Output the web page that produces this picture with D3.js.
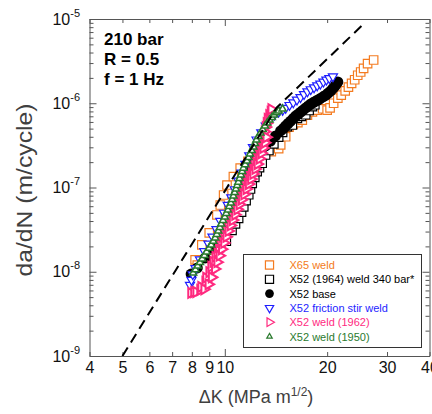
<!DOCTYPE html>
<html>
<head>
<meta charset="utf-8">
<style>
  body { margin:0; background:#fff; }
  svg { display:block; font-family:"Liberation Sans", Arial, sans-serif; }
</style>
</head>
<body>
<script src="https://d3js.org/d3.v7.min.js"></script>
<script>

var width = 432,
    height = 414;

// axis ticks
var xTicks = [4, 5, 6, 7, 8, 9, 10, 20, 30, 40];
var yDecades = [1e-9, 1e-8, 1e-7, 1e-6, 1e-5];
var yExponents = ["-9", "-8", "-7", "-6", "-5"];

// [dK (MPa m^1/2), da/dN (m/cycle)]
var x65Weld = [[8.18,1.38e-8],[8.3,1.2e-8],[8.56,2.08e-8],[9.15,1.44e-8],[9.0,2.9e-8],[9.48,4.72e-8],[9.7,6.2e-8],
  [9.92,8.15e-8],[10.15,1.07e-7],[10.6,1.35e-7],[11.1,1.7e-7],[11.7,2.05e-7],[12.3,2.35e-7],[13.0,2.55e-7],
  [13.7,2.66e-7],[14.4,2.9e-7],[14.6,3.2e-7],[15.1,4.0e-7],[15.45,5.2e-7],[15.9,5.6e-7],[16.4,5.9e-7],
  [16.9,6.3e-7],[17.5,7.2e-7],[18.1,7.9e-7],[18.7,8.3e-7],[19.4,8.6e-7],[20.0,8.3e-7],[20.4,8.8e-7],
  [20.9,1.0e-6],[21.5,1.15e-6],[22.0,1.25e-6],[22.6,1.4e-6],[23.1,1.55e-6],[23.6,1.72e-6],[24.1,1.9e-6],
  [24.6,2.15e-6],[25.1,2.35e-6],[25.6,2.6e-6],[26.3,2.95e-6],[27.4,3.26e-6]];

var x52Weld1964 = [[10.1,2.3e-8],[10.5,3.1e-8],[10.75,3.7e-8],[10.98,4.3e-8],[11.2,5.1e-8],[11.37,5.9e-8],
  [11.55,7.0e-8],[11.76,8.2e-8],[11.9,9.6e-8],[12.04,1.12e-7],[12.25,1.32e-7],[12.45,1.54e-7],[12.65,1.72e-7],
  [12.88,1.94e-7],[13.18,2.43e-7],[13.48,2.75e-7],[13.94,3.3e-7],[14.4,3.97e-7],[14.79,4.5e-7],[15.28,5.27e-7],
  [15.8,5.52e-7],[16.35,6.63e-7],[16.8,7.0e-7],[17.3,7.3e-7],[17.7,8.2e-7],[18.1,9.1e-7],[18.4,9.6e-7]];

var x52Base = [[7.96,9.4e-9],[8.3,1.11e-8],[8.75,1.46e-8],[9.15,1.91e-8],[9.55,2.52e-8],[9.85,3.31e-8],
  [10.15,4.46e-8],[10.45,6.03e-8],[10.8,8.15e-8],[11.1,1.07e-7],[11.45,1.41e-7],[11.8,1.75e-7],[12.15,2.12e-7],
  [12.45,2.43e-7],[12.8,2.79e-7],[13.18,3.11e-7],[13.63,3.56e-7],[14.1,4.09e-7],[14.59,4.69e-7],[14.85,5.0e-7],
  [15.1,5.37e-7],[15.35,5.75e-7],[15.62,6.15e-7],[15.9,6.6e-7],[16.17,7.06e-7],[16.45,7.45e-7],[16.72,7.87e-7],
  [17.0,8.3e-7],[17.3,8.79e-7],[17.6,9.3e-7],[17.9,9.8e-7],[18.2,1.02e-6],[18.53,1.06e-6],[18.85,1.1e-6],
  [19.17,1.15e-6],[19.5,1.2e-6],[19.84,1.25e-6],[20.15,1.32e-6],[20.5,1.4e-6],[20.8,1.5e-6],[21.1,1.6e-6],
  [21.3,1.7e-6],[21.5,1.79e-6]];

var x52Fsw = [[7.9,6.97e-9],[7.98,8.0e-9],[8.05,9.3e-9],[8.2,1.1e-8],[8.45,1.4e-8],[8.7,1.75e-8],[8.95,2.15e-8],
  [9.2,2.6e-8],[9.45,3.2e-8],[9.7,4.0e-8],[9.95,5.0e-8],[10.2,6.2e-8],[10.45,7.6e-8],[10.7,9.5e-8],[10.95,1.2e-7],
  [11.2,1.5e-7],[11.5,1.9e-7],[11.8,2.4e-7],[12.1,3.0e-7],[12.4,3.7e-7],[12.8,4.5e-7],[13.2,5.4e-7],[13.6,6.4e-7],
  [14.0,7.3e-7],[14.4,7.9e-7],[14.8,8.3e-7],[15.1,8.8e-7],[15.5,9.5e-7],[15.9,1.02e-6],[16.3,1.1e-6],[16.7,1.18e-6],
  [17.1,1.28e-6],[17.5,1.38e-6],[17.9,1.46e-6],[18.3,1.54e-6],[18.7,1.62e-6],[19.1,1.7e-6],[19.5,1.8e-6],
  [19.9,1.9e-6],[20.3,1.98e-6],[20.8,2.08e-6]];

var x52Weld1962 = [[7.96,5.6e-9],[8.12,5.75e-9],[8.24,5.75e-9],[8.46,6.07e-9],[8.52,6.6e-9],[8.76,7.6e-9],
  [8.81,8.5e-9],[9.0,9.9e-9],[9.12,1.15e-8],[9.25,1.31e-8],[9.38,1.5e-8],[9.51,1.72e-8],[9.6,1.98e-8],[9.7,2.25e-8],
  [9.83,2.6e-8],[9.96,2.96e-8],[10.1,3.4e-8],[10.24,3.89e-8],[10.38,4.4e-8],[10.52,4.98e-8],[10.67,5.55e-8],
  [10.82,6.2e-8],[10.96,7.0e-8],[11.11,7.93e-8],[11.22,8.8e-8],[11.34,9.87e-8],[11.5,1.1e-7],[11.66,1.23e-7],
  [11.82,1.37e-7],[11.98,1.53e-7],[12.1,1.73e-7],[12.23,1.95e-7],[12.4,2.2e-7],[12.57,2.5e-7],[12.7,2.8e-7],
  [12.82,3.19e-7],[12.91,3.6e-7],[13.0,4.08e-7],[13.1,4.6e-7],[13.18,5.22e-7],[13.27,5.8e-7],[13.36,6.5e-7],
  [13.5,7.2e-7],[13.63,7.87e-7],[13.7,8.5e-7],
  [8.7,6.2e-9],[8.95,7.1e-9],[9.15,8.6e-9],[9.35,1.08e-8],[9.5,1.3e-8],[9.65,1.55e-8],[9.8,1.85e-8],[9.95,2.2e-8],
  [10.1,2.6e-8],[10.25,3.05e-8],[10.4,3.55e-8],[10.55,4.1e-8],[10.72,4.75e-8],[10.88,5.5e-8],[11.05,6.3e-8],
  [11.22,7.2e-8],[11.4,8.3e-8],[11.58,9.6e-8],[11.76,1.1e-7],[11.94,1.26e-7],[12.12,1.45e-7],[12.3,1.66e-7],
  [12.48,1.9e-7],[12.66,2.2e-7],[12.82,2.55e-7],[12.98,2.95e-7],[13.12,3.4e-7],[13.25,3.95e-7]];

var x52Weld1950 = [[8.07,9.66e-9],[8.2,1.06e-8],[8.32,1.17e-8],[8.45,1.29e-8],[8.58,1.42e-8],[8.71,1.56e-8],
  [8.84,1.72e-8],[8.98,1.9e-8],[9.12,2.08e-8],[9.25,2.3e-8],[9.37,2.52e-8],[9.47,2.78e-8],[9.57,3.05e-8],
  [9.67,3.36e-8],[9.76,3.69e-8],[9.88,4.07e-8],[10.0,4.47e-8],[10.1,4.93e-8],[10.21,5.41e-8],[10.31,5.96e-8],
  [10.42,6.55e-8],[10.51,7.2e-8],[10.6,7.93e-8],[10.69,8.73e-8],[10.78,9.6e-8],[10.87,1.06e-7],[10.96,1.16e-7],
  [11.05,1.28e-7],[11.15,1.41e-7],[11.25,1.55e-7],[11.34,1.7e-7],[11.48,1.87e-7],[11.62,2.06e-7],[11.74,2.27e-7],
  [11.86,2.5e-7],[12.0,2.75e-7],[12.14,3.03e-7],[12.26,3.33e-7],[12.39,3.66e-7],[12.56,4.03e-7],[12.73,4.43e-7],
  [12.93,4.88e-7],[13.13,5.37e-7],[13.33,5.85e-7],[13.54,6.33e-7],[13.75,6.8e-7],[13.96,7.26e-7],[14.18,7.7e-7],
  [14.4,8.09e-7],[14.79,8.55e-7]];

// dashed reference curve
var designCurve = [[5, 1e-9], [14.2, 8.85e-7], [25.8, 9.0e-6]];

var legendNames = ["X65 weld", "X52 (1964) weld 340 bar*", "X52 base",
                   "X52 friction stir weld", "X52 weld (1962)", "X52 weld (1950)"];
var legendColors = ["#f47b20", "#000000", "#000000", "#1e1eff", "#ff2a7f", "#2a7a2e"];

var conditions = ["210 bar", "R = 0.5", "f = 1 Hz"];

// ------------------------------------------------------------

var x = d3.scaleLog().domain([4, 40]).range([89.5, 429.5]);
var y = d3.scaleLog().domain([1e-9, 1e-5]).range([356, 19]);

var x0 = x.range()[0], x1 = x.range()[1],
    yTop = y.range()[1], yBot = y.range()[0];

var svg = d3.select("body").append("svg")
    .attr("width", width)
    .attr("height", height);

svg.append("defs").append("clipPath").attr("id", "plotclip")
  .append("rect")
    .attr("x", x0).attr("y", yTop)
    .attr("width", x1 - x0).attr("height", yBot - yTop);

function isDecade(v) {
  var l = Math.log10(v);
  return Math.abs(l - Math.round(l)) < 1e-6;
}

var axisColor = "#555";
var yTickVals = y.ticks();

function styleAxis(g) {
  g.select(".domain").attr("stroke", axisColor);
  g.selectAll(".tick line").attr("stroke", axisColor);
  g.attr("font-size", 16).attr("font-family", "'Liberation Sans', Arial, sans-serif");
  g.selectAll(".tick text").attr("fill", "#111");
}

// left
var gL = svg.append("g")
    .attr("transform", "translate(" + x0 + ",0)")
    .call(d3.axisLeft(y).tickValues(yTickVals).tickSizeInner(-4).tickSizeOuter(0).tickFormat(""));
gL.selectAll(".tick line").attr("x2", function(d) { return isDecade(d) ? 7 : 4; });
styleAxis(gL);

// right
var gR = svg.append("g")
    .attr("transform", "translate(" + x1 + ",0)")
    .call(d3.axisRight(y).tickValues(yTickVals).tickSizeInner(-4).tickSizeOuter(0).tickFormat(""));
gR.selectAll(".tick line").attr("x2", function(d) { return isDecade(d) ? -7 : -4; });
styleAxis(gR);

// bottom
var gB = svg.append("g")
    .attr("transform", "translate(0," + yBot + ")")
    .call(d3.axisBottom(x).tickValues(xTicks).tickSizeInner(-4).tickSizeOuter(0)
      .tickPadding(6).tickFormat(d3.format("d")));
gB.selectAll(".tick line").attr("y2", function(d) { return isDecade(d) ? -7 : -4; });
styleAxis(gB);

// top
var gT = svg.append("g")
    .attr("transform", "translate(0," + yTop + ")")
    .call(d3.axisTop(x).tickValues(xTicks).tickSizeInner(-4).tickSizeOuter(0).tickFormat(""));
gT.selectAll(".tick line").attr("y2", function(d) { return isDecade(d) ? 7 : 4; });
styleAxis(gT);

// y tick labels 10^n
var yLab = svg.append("g").attr("font-size", 16).attr("fill", "#111");
yLab.selectAll("text")
  .data(yDecades)
  .enter().append("text")
    .attr("x", 80)
    .attr("y", function(d) { return y(d) + 5.5; })
    .attr("text-anchor", "end")
    .each(function(d, i) {
      var t = d3.select(this);
      t.append("tspan").text("10");
      t.append("tspan").attr("dy", -8).attr("font-size", 11).text(yExponents[i]);
    });

// axis titles
var xt = svg.append("text")
    .attr("x", 256).attr("y", 403)
    .attr("text-anchor", "middle")
    .attr("font-size", 18)
    .attr("fill", "#404040");
xt.append("tspan").text("\u0394K (MPa m");
xt.append("tspan").attr("dy", -7).attr("font-size", 12).text("1/2");
xt.append("tspan").attr("dy", 7).text(")");

svg.append("text")
    .attr("transform", "translate(32,190) rotate(-90)")
    .attr("text-anchor", "middle")
    .attr("font-size", 22)
    .attr("fill", "#404040")
    .attr("textLength", 173)
    .attr("lengthAdjust", "spacingAndGlyphs")
    .text("da/dN (m/cycle)");

// conditions
svg.append("g").selectAll("text")
  .data(conditions)
  .enter().append("text")
    .attr("x", 104)
    .attr("y", function(d, i) { return 45 + i * 20; })
    .attr("font-size", 17)
    .attr("font-weight", "bold")
    .attr("fill", "#000")
    .text(function(d) { return d; });

// markers
var plot = svg.append("g").attr("clip-path", "url(#plotclip)");

var series = [
  { data: x65Weld,     type: d3.symbolSquare,   size: 72, rot: 0,   fill: "#fff", sw: 1.2 },
  { data: x52Weld1964, type: d3.symbolSquare,   size: 72, rot: 0,   fill: "#fff", sw: 1.2 },
  { data: x52Base,     type: d3.symbolCircle,   size: 95, rot: 0,   fill: "#000", sw: 0 },
  { data: x52Fsw,      type: d3.symbolTriangle, size: 36, rot: 180, fill: "#fff", sw: 1.2 },
  { data: x52Weld1962, type: d3.symbolTriangle, size: 42, rot: 90,  fill: "#fff", sw: 2.0 },
  { data: x52Weld1950, type: d3.symbolTriangle, size: 22, rot: 0,   fill: "#fff", sw: 1.5 }
];

series.forEach(function(s, i) {
  plot.append("g").selectAll("path")
    .data(s.data)
    .enter().append("path")
      .attr("d", d3.symbol().type(s.type).size(s.size))
      .attr("transform", function(d) {
        return "translate(" + x(d[0]) + "," + y(d[1]) + ") rotate(" + s.rot + ")";
      })
      .attr("fill", s.fill)
      .attr("stroke", legendColors[i])
      .attr("stroke-width", s.sw);
});

// dashed curve
plot.append("path")
    .datum(designCurve)
    .attr("d", d3.line().x(function(d) { return x(d[0]); }).y(function(d) { return y(d[1]); }))
    .attr("fill", "none")
    .attr("stroke", "#000")
    .attr("stroke-width", 2)
    .attr("stroke-dasharray", "10,6");

// legend
var lg = svg.append("g");
lg.append("rect")
    .attr("x", 243.5).attr("y", 254.5)
    .attr("width", 178).attr("height", 93)
    .attr("fill", "#fff")
    .attr("stroke", "#333")
    .attr("stroke-width", 1);

var legSym = [
  { type: d3.symbolSquare,   size: 66, rot: 0,   fill: "#fff" },
  { type: d3.symbolSquare,   size: 66, rot: 0,   fill: "#fff" },
  { type: d3.symbolCircle,   size: 60, rot: 0,   fill: "#000" },
  { type: d3.symbolTriangle, size: 30, rot: 180, fill: "#fff" },
  { type: d3.symbolTriangle, size: 32, rot: 90,  fill: "#fff" },
  { type: d3.symbolTriangle, size: 13, rot: 0,   fill: "#fff" }
];

var rows = lg.selectAll(".row")
  .data(legendNames)
  .enter().append("g")
    .attr("transform", function(d, i) { return "translate(0," + (265 + i * 14.3) + ")"; });

rows.append("path")
    .attr("d", function(d, i) { return d3.symbol().type(legSym[i].type).size(legSym[i].size)(); })
    .attr("transform", function(d, i) { return "translate(269.5,0) rotate(" + legSym[i].rot + ")"; })
    .attr("fill", function(d, i) { return legSym[i].fill; })
    .attr("stroke", function(d, i) { return legendColors[i]; })
    .attr("stroke-width", function(d, i) { return i === 2 ? 0 : 1.2; });

rows.append("text")
    .attr("x", 289.5)
    .attr("y", 4)
    .attr("font-size", 11)
    .attr("fill", function(d, i) { return legendColors[i]; })
    .text(function(d) { return d; });

</script>
</body>
</html>
